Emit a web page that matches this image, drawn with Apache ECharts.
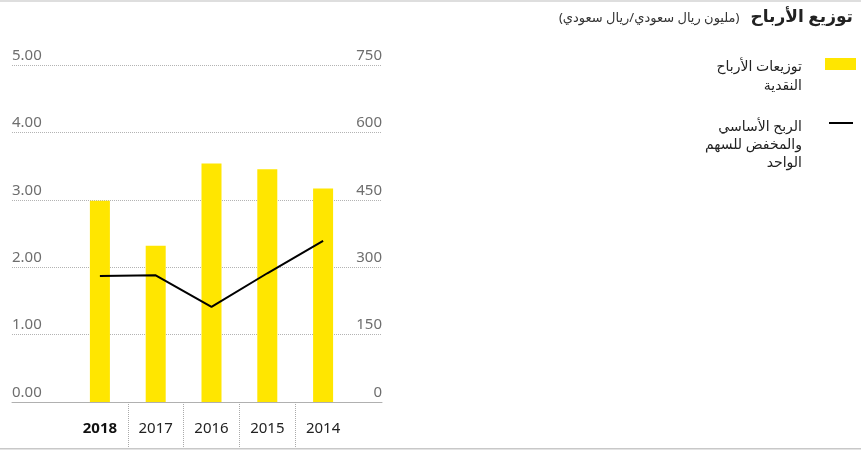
<!DOCTYPE html>
<html><head><meta charset="utf-8">
<script src="https://cdn.jsdelivr.net/npm/echarts@6/dist/echarts.min.js"></script>
<style>html,body{margin:0;padding:0;background:#fff}#c{width:861px;height:451px}</style>
</head><body><div id="c"></div>
<script>
const categories = ['2018', '2017', '2016', '2015', '2014'];
const dividends = [448, 348, 531, 518, 475];
const eps = [1.87, 1.88, 1.41, 1.91, 2.39];
const barName = 'توزيعات الأرباح النقدية';
const barLines = ['توزيعات الأرباح', 'النقدية'];
const lineName = 'الربح الأساسي والمخفض للسهم الواحد';
const lineLines = ['الربح الأساسي', 'والمخفض للسهم', 'الواحد'];
const titleText = 'توزيع الأرباح';
const unitText = '(مليون ريال سعودي/ريال سعودي)';

const font = "'Noto Sans', 'DejaVu Sans', sans-serif";
const chart = echarts.init(document.getElementById('c'), null, {renderer: 'canvas'});
const gridLine = {show: true, lineStyle: {color: '#b3b3b3', type: 'dotted', width: 1}};
const yLabel = {inside: true, margin: 0, verticalAlign: 'bottom', padding: [0, 0, 2, 0], fontSize: 15, color: '#6e6e6e', fontFamily: font};
const legendText = (lines, spacer, lh) => ({
  fontSize: 14, color: '#222', fontFamily: font,
  rich: {
    s: {fontSize: 1, lineHeight: spacer, height: spacer},
    a: {fontSize: 14, lineHeight: lh, color: '#222', fontFamily: font, align: 'right'}
  }
});
const legendFmt = lines => () => '{s| }\n' + lines.map(l => '{a|' + l + '}').join('\n');
const option = {
  animation: false,
  backgroundColor: '#fff',
  textStyle: {fontFamily: font},
  title: {
    right: 8, top: 9, padding: 0,
    text: '{u|\u200F' + unitText + '\u200F}{t|' + titleText + '}',
    textStyle: {rich: {
      u: {fontSize: 13, fontWeight: 'normal', color: '#333', fontFamily: font, padding: [2, 11, 0, 0]},
      t: {fontSize: 17, fontWeight: 'bold', color: '#222', fontFamily: font}
    }}
  },
  grid: [
    {left: 12, right: 479, top: 65, bottom: 49, outerBoundsMode: 'none'},
    {left: 72, right: 510, top: 65, bottom: 49, outerBoundsMode: 'none'},
    {left: 128, right: 566, top: 65, bottom: 49, outerBoundsMode: 'none'}
  ],
  xAxis: [
    {gridIndex: 0, type: 'category', data: categories, axisLine: {lineStyle: {color: '#b0b0b0', width: 1}}, axisTick: {show: false}, axisLabel: {show: false}, splitLine: {show: false}},
    {gridIndex: 1, type: 'category', data: categories, axisLine: {show: false}, axisTick: {show: false}, splitLine: {show: false},
      axisLabel: {interval: 0, margin: 19, fontSize: 15, color: '#222', fontFamily: font,
        formatter: (v, i) => i === 0 ? '{b|' + v + '}' : v,
        rich: {b: {fontWeight: 'bold', fontSize: 15, color: '#111', fontFamily: font}}}},
    {gridIndex: 2, type: 'category', data: categories.slice(1, 4), axisLine: {show: false}, axisLabel: {show: false, interval: 0}, splitLine: {show: false},
      axisTick: {show: true, interval: 0, length: 46, lineStyle: {color: '#aaa', type: 'dotted', width: 1}}}
  ],
  yAxis: [
    {gridIndex: 0, type: 'value', min: 0, max: 5, interval: 1, position: 'left', axisLine: {show: false}, axisTick: {show: false}, splitLine: gridLine,
      axisLabel: Object.assign({}, yLabel, {formatter: v => v.toFixed(2)})},
    {gridIndex: 0, type: 'value', min: 0, max: 750, interval: 150, position: 'right', axisLine: {show: false}, axisTick: {show: false}, splitLine: {show: false},
      axisLabel: yLabel},
    {gridIndex: 1, type: 'value', min: 0, max: 5, show: false},
    {gridIndex: 1, type: 'value', min: 0, max: 750, show: false},
    {gridIndex: 2, type: 'value', show: false}
  ],
  legend: [
    {data: [barName], orient: 'vertical', align: 'right', right: 5, top: 32.5, padding: 0, itemWidth: 31, itemHeight: 12, icon: 'rect',
      formatter: legendFmt(barLines),
      textStyle: Object.assign(legendText(barLines, 25, 19), {padding: [0, 18, 0, 0]})},
    {data: [{name: lineName, icon: 'path://M0,0H24V2H0Z', itemStyle: {color: '#000'}}], orient: 'vertical', align: 'right', right: 8, top: 74, padding: 0, itemWidth: 24, itemHeight: 14,
      formatter: legendFmt(lineLines),
      textStyle: Object.assign(legendText(lineLines, 44, 18), {padding: [0, 22, 0, 0]})}
  ],
  series: [
    {name: barName, type: 'bar', xAxisIndex: 1, yAxisIndex: 3, data: dividends, barWidth: 20, itemStyle: {color: '#FFE600'}},
    {name: lineName, type: 'line', xAxisIndex: 1, yAxisIndex: 2, data: eps, symbol: 'none', lineStyle: {color: '#000', width: 2}, itemStyle: {color: '#000'}}
  ],
  graphic: [
    {type: 'rect', left: 0, top: 0, shape: {width: 861, height: 2}, style: {fill: '#dedede'}},
    {type: 'rect', left: 0, top: 448, shape: {width: 861, height: 1.5}, style: {fill: '#c8c8c8'}}
  ]
};
chart.setOption(option);
</script></body></html>
